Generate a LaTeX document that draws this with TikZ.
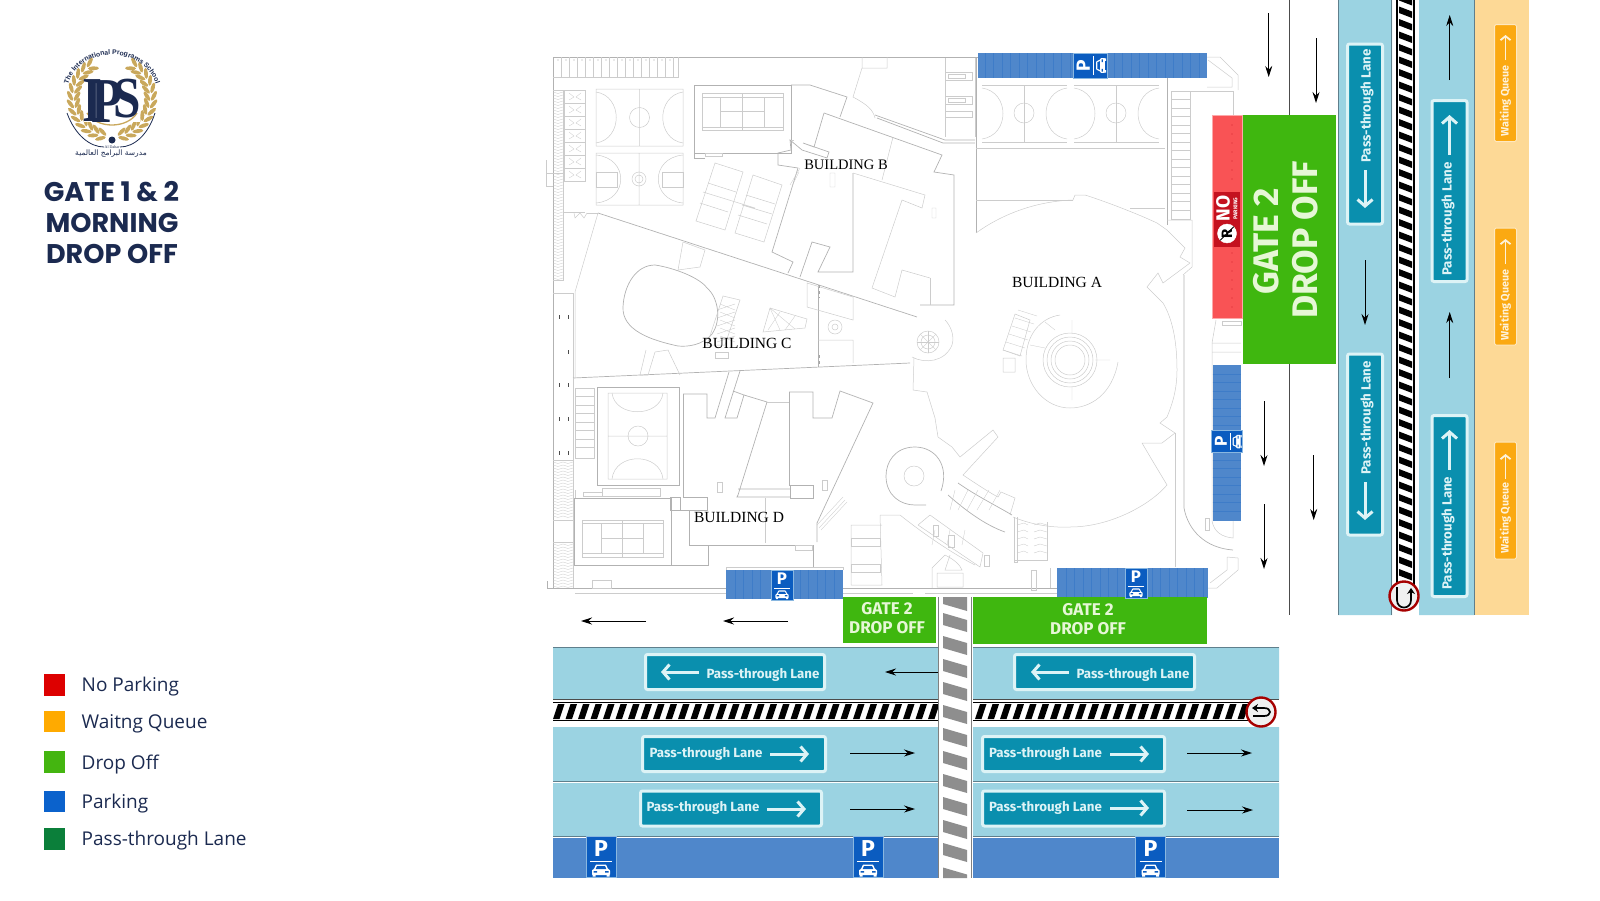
\documentclass[tikz,border=0pt]{standalone}
\usepackage{fontspec}
\setmainfont{Open Sans}
\newfontfamily\signfont{Fira Sans}
\newfontfamily\titlefont{Poppins}
\newfontfamily\planfont{Liberation Serif}
\newfontfamily\logofont{Liberation Sans}
\newfontfamily\arabicfont[Script=Arabic]{DejaVu Sans}
\TeXXeTstate=1
\usetikzlibrary{arrows.meta,decorations.text}
\definecolor{lanecol}{HTML}{9BD3E2}
\definecolor{laneedge}{HTML}{5F7F8C}
\definecolor{queuecol}{HTML}{FDD996}
\definecolor{queuesign}{HTML}{FBA912}
\definecolor{signcol}{HTML}{0A8FAE}
\definecolor{signedge}{HTML}{DDF3F6}
\definecolor{dropcol}{HTML}{3FB70F}
\definecolor{droptext}{HTML}{E6F7D6}
\definecolor{parkcol}{HTML}{4F87CB}
\definecolor{parksign}{HTML}{0B5CC0}
\definecolor{nopark}{HTML}{F95355}
\definecolor{noparksign}{HTML}{C4121F}
\definecolor{navy}{HTML}{1B2A50}
\definecolor{logogold}{HTML}{C9A85C}
\definecolor{zebra}{HTML}{8E8E8E}
\tikzset{
  planline/.style={draw=gray!40,line width=.5pt},
  planwall/.style={draw=gray!60,line width=.7pt},
  plantick/.style={draw=gray!40,line width=.35pt},
  flowarrow/.style={draw=black,line width=.9pt,-{Stealth[length=11pt,width=7pt]}},
  signarrow/.style={draw=signedge,line width=3pt,-{Straight Barb[length=6.5pt,width=15pt,line width=3pt]}},
  queuearrow/.style={draw=#1,line width=1.8pt,-{Straight Barb[length=4pt,width=10pt,line width=1.8pt]}},
  lanesign/.style={draw=signedge,fill=signcol,line width=3pt,rounded corners=2pt,inner sep=0pt},
  queuebox/.style={draw=queuecol!60,fill=queuesign,line width=1pt,rounded corners=1.5pt,inner sep=0pt},
  signtext/.style={text=signedge,inner sep=0pt,font=\signfont\fontsize{13.3}{14}\selectfont\bfseries},
  queuetext/.style={text=queuecol!35,inner sep=0pt,font=\signfont\fontsize{10.8}{12}\selectfont\bfseries},
  gatesmall/.style={text=droptext,inner sep=0pt,font=\signfont\fontsize{17}{17}\selectfont\bfseries},
  gatebig/.style={text=droptext,inner sep=0pt,rotate=90,font=\signfont\fontsize{35.5}{36}\selectfont\bfseries},
  buildinglabel/.style={inner sep=0pt,font=\planfont\fontsize{15.5}{16}\selectfont},
  legendbox/.style={minimum width=20.5pt,minimum height=21.5pt,inner sep=0pt},
  legendtext/.style={anchor=west,inner sep=0pt,text=navy,font=\fontsize{19}{19}\selectfont},
  titletext/.style={text=navy,inner sep=0pt,font=\titlefont\fontsize{27}{27}\selectfont\bfseries},
  uturnsign/.style={circle,draw=red!65!black,fill=gray!12,line width=2.4pt,minimum size=29pt,inner sep=0pt},
  uturnpath/.style={draw=black,line width=1.7pt,-{Stealth[length=6pt,width=8pt]}},
  parkingsign/.pic={
    \fill[parksign] (-15,-20.5) rectangle (15,20.5);
    \draw[signedge!60!parksign,line width=.6pt] (-15,-20.5) rectangle (15,20.5);
    \node[text=white,inner sep=0pt,transform shape,font=\signfont\fontsize{23}{23}\selectfont\bfseries] (-p) at (0,-8) {P};
    \draw[white,line width=.6pt] (-11,4) -- (11,4);
    \fill[white,rounded corners=.6pt] (-5,7.5) -- (5,7.5) -- (7,12) -- (9,13) -- (9,18) -- (-9,18) -- (-9,13) -- (-7,12) -- cycle;
    \fill[parksign] (-4,9) -- (4,9) -- (5.3,12) -- (-5.3,12) -- cycle;
    \fill[parksign] (-7.5,14) rectangle (-4,15.5) (4,14) rectangle (7.5,15.5) (-7,18) rectangle (-9,19.5);
    \fill[white] (-8.5,18) rectangle (-5.5,19.5) (5.5,18) rectangle (8.5,19.5);
  }
}
\begin{document}
\begin{tikzpicture}[x=1pt,y=-1pt]
\useasboundingbox (0,0) rectangle (1600,900);
% site outline
\draw[planwall] (553,57) -- (978,57);
\draw[planwall] (553,57) -- (553,588);
\draw[planwall] (547,581) -- (547,588) -- (726,588);
\draw[planwall] (843,588) -- (1057,588);
\draw[planline] (575,593) -- (726,593) (843,593) -- (913,593) (925,593) -- (1057,593);
\draw[planline] (553,293) -- (573,293) -- (573,588);
% parking rows
\draw[planline] (553,77) -- (678,77) -- (678,57);
\foreach \x in {561,569,...,677}{\draw[plantick] (\x,57) -- (\x,77);}
\foreach \x in {558,566,...,674}{\fill[gray!70] (\x,60) circle[radius=.6];}
\draw[planline] (553,90) -- (563,90) -- (563,280) -- (553,280);
\foreach \y in {92,95,...,278}{\draw[plantick] (553,\y) -- (558,\y+1.5) -- (563,\y);}
\foreach \y in {90,103,...,168}{
  \draw[plantick] (564,\y) rectangle (585,\y+13);
  \draw[plantick] (569,\y+3) -- (574,\y+7) -- (569,\y+10) (581,\y+3) -- (576,\y+7) -- (581,\y+10);
}
\draw[planline] (546,160) -- (546,186) -- (553,186) (546,173) -- (563,173) (563,212) -- (585,212) (587,213) -- (598,213);
\draw[planline] (574,213) -- (575,218) -- (580,213) -- (584,218) -- (587,213);
\draw[planline] (553,460) -- (573,460) (553,520) -- (573,520) (553,542) -- (573,542);
\foreach \y in {462,465,...,518,544,547,...,586}{\draw[plantick] (553,\y) -- (558,\y+1.5) -- (563,\y) -- (568,\y+1.5) -- (573,\y);}
\foreach \y in {317,385,419,453}{\draw[black!70,line width=.5pt] (559,\y-2) -- (559,\y+2) (568,\y-2) -- (568,\y+2);}
\draw[black!70,line width=.5pt] (568,350) -- (568,354);
% courts
\draw[planline] (596,89) rectangle (683,146) (639.5,89) -- (639.5,146) (639.5,117.5) circle[radius=10];
\draw[planline] (596,92) .. controls (623,96) and (623,139) .. (596,143) (683,92) .. controls (656,96) and (656,139) .. (683,143);
\draw[planline] (596,153) rectangle (683,205) (639,153) -- (639,205) (639,179) circle[radius=7] (639,179) circle[radius=4];
\draw[planline] (596,155) .. controls (629,158) and (629,200) .. (596,203) (683,155) .. controls (650,158) and (650,200) .. (683,203);
\draw[planline] (596,172) rectangle (617,187) (683,172) rectangle (662,187);
% tennis
\draw[planwall] (694,85) rectangle (791,153) (694,153) -- (694,158) -- (705,158);
\draw[planline] (702,93) rectangle (783,130) (702,97) -- (783,97) (702,127) -- (783,127);
\draw[planline] (720,97) -- (720,127) (742,93) -- (742,130) (764,97) -- (764,127) (720,111) -- (764,111);
\draw[plantick] (705,153) rectangle (722,156);
% slanted courts
\draw[planline] (715,163) -- (743,172) -- (725,230) -- (696,221) -- cycle (753,175) -- (782,185) -- (764,242) -- (735,233) -- cycle;
\draw[planline] (708,183) -- (736,192) (703,192) -- (755,208) (700,203) -- (728,212) (746,195) -- (775,204) (742,205) -- (772,214) (738,215) -- (767,224);
% building b
\draw[planwall] (791,85) -- (810,85) -- (847,97) -- (840,117);
\draw[planwall] (824,113) -- (942,155) -- (934,172) -- (954,175) -- (954,305) -- (920,305);
\draw[planline] (930,278) -- (902,270) -- (895,297) -- (872,288);
\draw[planline] (893,137) -- (882,180);
\draw[planwall] (853,173) -- (853,272) -- (818,272) -- (830,247) -- (812,242) -- (800,277);
\draw[planwall] (824,113) -- (814,147) -- (803,143) -- (829,152) -- (827,158) -- (802,150) -- (790,140) -- (791,150) -- (778,153) -- (778,165) -- (798,168) -- (772,252) -- (793,262) -- (788,273);
\draw[planline] (853,173) -- (925,195) -- (922,208) -- (902,200) -- (872,288);
\draw[planline] (930,278) -- (930,305) (794,140) -- (791,140);
\draw[plantick] (830,173) rectangle (835,187) (932,208) rectangle (936,218) (800,168) -- (790,185) (799,172) -- (792,186);
% top right of block b
\draw[planline] (862,57) -- (862,68) -- (887,68) -- (887,57) (862,68) -- (853,97) .. controls (868,105) and (873,110) .. (875,118);
\draw[planwall] (875,115) -- (945,140) -- (975,140) (877,118) -- (943,143) -- (975,143);
\draw[planline] (945,58) -- (945,137) (975,58) -- (975,137);
\foreach \y in {72,96}{\draw[plantick] (945,\y) rectangle (972,\y+8) (948,\y+2) rectangle (965,\y+6);}
\draw[plantick] (945,111) rectangle (972,117);
% courts top
\draw[planwall] (976,57) -- (976,233);
\foreach \x in {982,1074}{
  \draw[plantick] (\x,85) -- (\x+85,85) (\x,142) -- (\x+85,142) (\x+42,85) -- (\x+42,142);
  \draw[planline] (\x+42,113) circle[radius=10];
  \draw[planline] (\x,88) .. controls (\x+28,92) and (\x+28,135) .. (\x,139) (\x+85,88) .. controls (\x+57,92) and (\x+57,135) .. (\x+85,139);
}
\draw[planline] (976,148) -- (1165,148) (976,200) -- (1073,200) (1165,208) -- (1130,208);
\draw[planwall] (1167,78) -- (1167,225);
% right parking
\draw[planline] (1171,91) rectangle (1190,219) (1190,91) -- (1233,91) -- (1233,115);
\foreach \y in {99.5,108,...,211}{\draw[plantick] (1171,\y) -- (1190,\y);}
\draw[planline] (1207,57) -- (1220,57) -- (1238,75) -- (1238,90) (1208,60) -- (1232,78) -- (1232,87) -- (1207,87);
% building c
\draw[planwall] (598,213) -- (917,317);
\draw[planline] (598,213) -- (575,292) -- (575,378);
\draw[planwall] (573,378) -- (910,363);
\draw[planline] (683,242) -- (705,250) -- (700,267) -- (678,270) -- (683,242);
\draw[planwall] (623,307) .. controls (624,285) and (636,265) .. (655,265) .. controls (675,268) and (700,278) .. (707,288) .. controls (718,297) and (722,320) .. (712,334) .. controls (703,345) and (688,347) .. (678,346) .. controls (650,340) and (622,330) .. (623,307);
\draw[planline] (723,296) -- (740,300) -- (725,345) -- (707,345) -- cycle;
\foreach \y in {304,312,...,336}{\draw[plantick] (720,\y) -- (735,\y+6) (735,\y) -- (717,\y+6);}
\draw[planline] (770,308) -- (807,319) -- (805,328) -- (763,332) -- cycle;
\draw[plantick] (770,308) -- (780,330) (770,308) -- (795,329) (780,312) -- (768,330) (795,316) -- (785,330);
\draw[planwall] (818,285) -- (818,367);
\draw[planline] (807,283) -- (853,297) -- (853,320) -- (807,307) -- cycle (818,340) -- (853,340) -- (853,363);
\draw[gray!70,line width=1pt,dashed] (819,285) -- (819,298) (819,355) -- (819,366);
\draw[planline] (835,327) circle[radius=7] (835,327) circle[radius=3];
\draw[planline] (655,352) -- (668,350) -- (680,375) (655,352) -- (648,375) -- (640,375) -- (646,350);
\draw[plantick] (715,352) rectangle (728,358);
% rosette
\draw[planline] (928,342) circle[radius=11] (928,342) circle[radius=7];
\foreach \a in {0,45,...,135}{\draw[plantick] ({928+11*cos(\a)},{342+11*sin(\a)}) -- ({928-11*cos(\a)},{342-11*sin(\a)});}
\draw[planline] (912,357) .. controls (925,364) and (945,362) .. (952,345) .. controls (955,335) and (950,325) .. (945,320) (914,358) -- (913,390) -- (927,392);
% building a
\draw[planline] (976,233) .. controls (1005,212) and (1040,201) .. (1073,200) -- (1075,195) -- (1085,195) .. controls (1110,203) and (1140,215) .. (1157,223) -- (1167,230) -- (1185,248) -- (1180,257) -- (1190,263) -- (1163,283) -- (1158,273) -- (1147,287) -- (1163,303) .. controls (1172,318) and (1177,340) .. (1177,370) .. controls (1177,390) and (1172,405) .. (1167,417);
\draw[planline] (1167,417) -- (1160,423) -- (1175,433) -- (1162,443) -- (1142,443) -- (1152,460) -- (1167,485) .. controls (1150,505) and (1110,527) .. (1070,527) .. controls (1050,528) and (1030,524) .. (1013,517);
\draw[planline] (927,392) -- (935,418) -- (938,437) -- (952,447) -- (960,457) -- (993,430) -- (998,437) -- (963,475) .. controls (975,483) and (990,493) .. (998,497) -- (1001,492) -- (1015,498) -- (1010,515);
\draw[planline] (1175,433) -- (1175,567);
% amphitheatre
\draw[planline] (1118,362) .. controls (1112,395) and (1090,408) .. (1070,408) .. controls (1045,408) and (1026,385) .. (1026,360) .. controls (1026,335) and (1040,318) .. (1060,315);
\draw[planline] (1070,360) circle[radius=15] (1070,360) circle[radius=19] (1070,360) circle[radius=23] (1070,360) circle[radius=27];
\draw[plantick] (1045,322) -- (1055,330) (1030,345) -- (1045,348) (1072,334) -- (1072,320) (1072,386) -- (1072,400) (1095,360) -- (1110,360);
\foreach \i in {0,...,5}{\draw[plantick] (1003+\i*3,350-\i*8) -- (1022+\i*3,356-\i*8);}
\draw[planline] (1003,350) -- (1015,314) -- (1030,320) -- (1020,356) -- cycle (1003,358) rectangle (1015,372);
% right hand wall
\draw[planline] (1183,275) -- (1192,267) -- (1192,220) -- (1167,220);
\draw[planwall] (1184,275) -- (1184,508) .. controls (1188,530) and (1205,548) .. (1233,550);
\draw[planline] (1212,343) -- (1212,521) .. controls (1214,532) and (1222,537) .. (1233,538) -- (1233,520);
\draw[planline] (1212,343) -- (1241,343) (1212,352) -- (1241,352) (1216,320) -- (1212,343);
\draw[plantick] (1222,321) rectangle (1241,325);
\draw[planline] (1205,518) rectangle (1209,530);
\draw[planline] (1227,557) -- (1238,558) -- (1238,570) -- (1217,588) -- (1208,588) (1227,557) -- (1227,570) -- (1210,583);
% loop and curved parking
\draw[planwall] (941,491) .. controls (950,465) and (935,447) .. (915,447) .. controls (895,447) and (886,462) .. (886,476) .. controls (886,495) and (900,505) .. (915,505) -- (926,505);
\draw[planline] (914,476) circle[radius=10];
\draw[planwall] (958,483) .. controls (975,495) and (995,505) .. (1012,515) (948,495) .. controls (965,510) and (985,525) .. (1005,532);
\foreach \a/\b in {955/950,968/958,978/967,989/977,1000/989}{\draw[plantick] (\a,490) -- (\b,510);}
\draw[planline] (930,515) -- (918,525) (930,515) -- (983,553) (918,525) -- (980,567) -- (983,553);
\draw[planline] (900,515) .. controls (925,535) and (955,555) .. (975,565) (880,515) -- (900,515);
\foreach \x in {935,950,965}{\draw[plantick] (\x,530) -- (\x-3,545);}
\draw[planline] (933,525) rectangle (938,536) (948,535) rectangle (954,547) (984,555) rectangle (989,566);
\draw[planline] (880,515) -- (882,585) -- (851,585) -- (851,525) -- (882,525);
\foreach \y in {538,564}{\draw[plantick] (851,\y) rectangle (880,\y+8);}
\draw[planline] (945,555) -- (932,568) -- (932,588) (945,555) .. controls (955,560) and (960,565) .. (962,570) -- (945,570) -- (950,555) (937,573) rectangle (963,587);
% stairs south
\draw[planline] (1014,517) -- (1014,562) -- (1017,562) -- (1017,517);
\draw[planline] (1047,522) -- (1047,560) -- (1014,560);
\foreach \y in {523,530,...,555}{\draw[plantick] (1017,\y+2) -- (1024,\y) -- (1028,\y+2) (1034,\y+2) -- (1040,\y) -- (1047,\y+2);}
\draw[plantick] (1036,570) rectangle (1031,590) (1050,568) -- (1050,588);
% building d
\draw[planwall] (597,387) rectangle (679,485);
\draw[planline] (608,393) rectangle (667,479) (608,436) -- (667,436) (638,436) circle[radius=10];
\draw[planline] (612,393) .. controls (615,418) and (660,418) .. (663,393) (612,479) .. controls (615,452) and (660,452) .. (663,479);
\draw[planline] (575,388) rectangle (594,458);
\foreach \y in {396.5,405,...,450}{\draw[plantick] (575,\y) -- (594,\y);}
\draw[planline] (573,378) -- (573,388);
\draw[planwall] (574,498) -- (671,498) -- (671,565) -- (574,565) -- cycle;
\draw[planline] (582,520) rectangle (663,557) (582,523) -- (663,523) (582,553) -- (663,553) (601,523) -- (601,553) (622,520) -- (622,557) (643,523) -- (643,553) (601,538) -- (643,538);
\draw[plantick] (575,490) -- (575,498) (583,492) rectangle (602,496);
\draw[plantick] (602,488) rectangle (660,496);
\draw[planwall] (683,394) -- (683,497) -- (707,497) -- (707,510) -- (689,510) -- (689,545) -- (813,545) -- (813,567);
\draw[planwall] (671,510) -- (707,510) (708,545) -- (708,565) -- (671,565) (670,497) rectangle (680,510);
\draw[planwall] (683,394) -- (707,394) -- (707,418) -- (715,418) -- (729,372) (740,371) -- (725,418) -- (737,418) -- (744,395) -- (733,391);
\draw[planwall] (744,395) -- (767,402) -- (738,495) -- (737,497) -- (790,497) (738,489) -- (790,489);
\draw[planwall] (789,392) -- (789,485) -- (813,485) -- (813,498) -- (790,498) -- (790,485);
\draw[planwall] (789,392) -- (813,392) -- (813,418) -- (832,418) -- (840,391) -- (873,403) -- (817,523) -- (817,542);
\draw[planline] (765,498) -- (765,543) (767,402) -- (789,402);
\draw[plantick] (717,482) rectangle (722,492) (822,480) rectangle (827,490) (795,545) rectangle (812,550);
\draw[plantick] (817,525) -- (843,497) (819,528) -- (845,500) (821,530) -- (847,502);
\draw[planline] (726,570) -- (726,567) -- (843,567) -- (843,570);
\draw[plantick] (592,588) rectangle (611,580);
% lanes on the right
\fill[lanecol] (1338,0) rectangle (1392,615) (1419,0) rectangle (1474,615);
\fill[queuecol] (1474,0) rectangle (1529,615);
\draw[laneedge,line width=.9pt] (1338,0) -- (1338,615) (1474,0) -- (1474,615) (1391.5,0) -- (1391.5,615);
\draw[gray!60!black,line width=.9pt] (1289,0) -- (1289,115) (1289,364) -- (1289,615);
\fill[white] (1397,0) rectangle (1414,585);
\foreach \y in {-6,6.5,...,580}{\fill[black] (1399,\y) -- (1412,\y+5) -- (1412,\y+11.5) -- (1399,\y+6.5) -- cycle;}
\draw[black,line width=1.6pt] (1397,0) -- (1397,585) (1414,0) -- (1414,585);
% lanes at the bottom
\foreach \xa/\xb in {553/938,973/1279}{
  \fill[lanecol] (\xa,647) rectangle (\xb,699) (\xa,727) rectangle (\xb,781) (\xa,783) rectangle (\xb,836);
  \fill[parkcol] (\xa,838) rectangle (\xb,878);
  \draw[laneedge,line width=.9pt] (\xa,647) -- (\xb,647) (\xa,836.5) -- (\xb,836.5) (\xa,781.5) -- (\xb,781.5);
  \draw[black!70,line width=.7pt] (\xa,699.5) -- (\xb,699.5);
}
\foreach \x in {553,565.5,...,930}{\fill[black] (\x,719) -- (\x+5,704) -- (\x+11.5,704) -- (\x+6.5,719) -- cycle;}
\foreach \x in {975,987.5,...,1240}{\fill[black] (\x,719) -- (\x+5,704) -- (\x+11.5,704) -- (\x+6.5,719) -- cycle;}
\draw[black,line width=1.5pt] (553,702.5) -- (938,702.5) (553,720.5) -- (938,720.5) (973,702.5) -- (1250,702.5) (973,720.5) -- (1250,720.5);
% zebra
\fill[white] (938,597) rectangle (972,878);
\draw[gray,line width=1pt] (938.5,597) -- (938.5,878) (971.5,597) -- (971.5,878);
\fill[zebra] (943,597) -- (967,597) -- (967,611) -- (943,604) -- cycle;
\foreach \y in {613,636,...,850}{\fill[zebra] (943,\y) -- (967,\y+7) -- (967,\y+19) -- (943,\y+12) -- cycle;}
\fill[zebra] (943,867.5) -- (967,874.5) -- (967,878) -- (943,878) -- cycle;
% coloured blocks
\fill[nopark] (1212,115.5) rectangle (1242,318);
\draw[nopark!50,line width=.8pt] (1212,115.5) rectangle (1242,318);
\foreach \y in {125,134,...,185,253,262,...,312}{\fill[noparksign!70!nopark] (1232,\y) circle[radius=.6];}
\fill[dropcol] (1243,115) rectangle (1336,364);
\fill[parkcol] (1212.5,365) rectangle (1241,521);
\foreach \y in {374,382.5,...,425,460,468.5,...,515}{\draw[parksign!25!parkcol,line width=.3pt] (1212.5,\y) -- (1241,\y);}
\fill[parkcol] (978,53) rectangle (1207,78);
\fill[parkcol] (726,570) rectangle (843,599);
\fill[parkcol] (1057,568) rectangle (1208,598);
\foreach \x in {1114,1122.5,...,1200,985,993.5,...,1070}{\draw[parksign!25!parkcol,line width=.3pt] (\x,53) -- (\x,78);}
\foreach \x in {735,743.5,...,765,800,808.5,...,840}{\draw[parksign!25!parkcol,line width=.3pt] (\x,570) -- (\x,599);}
\foreach \x in {1066,1074.5,...,1120,1152,1160.5,...,1204}{\draw[parksign!25!parkcol,line width=.3pt] (\x,568) -- (\x,598);}
\fill[dropcol] (843,597) rectangle (936,643);
\fill[dropcol] (973,597) rectangle (1207,644);
% text on the blocks
\node[gatebig] (gateside) at (1266,241) {GATE 2};
\node[gatebig] (dropside) at (1305,240) {DROP OFF};
\node[gatesmall] (gateleft) at (887,609) {GATE 2};
\node[gatesmall] (dropleft) at (887,628) {DROP OFF};
\node[gatesmall] (gateright) at (1088,610) {GATE 2};
\node[gatesmall] (dropright) at (1088,629) {DROP OFF};
\node[fill=noparksign,minimum width=26pt,minimum height=55pt,inner sep=0pt] (nosign) at (1227,219.5) {};
\node[rotate=90,text=white,inner sep=0pt,font=\signfont\fontsize{19}{19}\selectfont\bfseries] (notext) at (1223,208.5) {NO};
\node[rotate=90,text=white,inner sep=0pt,font=\signfont\fontsize{5.5}{6}\selectfont\bfseries] (noparking) at (1235.5,208.5) {PARKING};
\node[circle,fill=white,draw=white,minimum size=19pt,inner sep=0pt,rotate=90,text=black,font=\signfont\fontsize{15}{15}\selectfont\bfseries] (norsign) at (1227,233.5) {R};
\draw[black,line width=1pt] (norsign.north west) -- (norsign.south east);
% pass through signs
\foreach \n/\cx/\cy/\h/\tx/\ty/\ax/\aa/\ab in {sa/1365/134/180/1367/106/1365/170/208,sb/1365/444.5/181/1367/418/1365/482/520,sc/1449.5/191/181/1448/219/1449.5/155/115,sd/1449.5/506/181/1448/533/1449.5/470/430}{
  \node[lanesign,minimum width=35pt,minimum height=\h pt] (\n) at (\cx,\cy) {};
  \node[signtext,rotate=90] (\n text) at (\tx,\ty) {Pass-through Lane};
  \coordinate (\n from) at (\ax,\aa);
  \coordinate (\n to) at (\ax,\ab);
  \draw[signarrow] (\n from) -- (\n to);
}
\foreach \n/\cx/\cy/\w/\tx/\ty/\aa/\ab/\ay in {se/735/672/179/763/675/699/661/672,sf/1104.5/672/180/1133/675/1069/1031/672,sg/734/754/183/706/754/770/809/754,sh/731/808.5/181/703/808/767/806/809,si/1073.5/754/182/1045.5/754/1110/1149/754,sj/1073.5/808.5/182/1045.5/808/1110/1149/808}{
  \node[lanesign,minimum width=\w pt,minimum height=35pt] (\n) at (\cx,\cy) {};
  \node[signtext] (\n text) at (\tx,\ty) {Pass-through Lane};
  \coordinate (\n from) at (\aa,\ay);
  \coordinate (\n to) at (\ab,\ay);
  \draw[signarrow] (\n from) -- (\n to);
}
\foreach \n/\cy/\tv/\aa/\ab in {qa/83/101/60/35,qb/286.5/305/264/239,qc/500.5/518/479/454}{
  \node[queuebox,minimum width=22pt,minimum height=117pt] (\n) at (1505.5,\cy) {};
  \node[queuetext,rotate=90] (\n text) at (1505.5,\tv) {Waiting Queue};
  \coordinate (\n from) at (1505.5,\aa);
  \coordinate (\n to) at (1505.5,\ab);
  \draw[queuearrow=queuecol!35] (\n from) -- (\n to);
}
% traffic arrows
\foreach \n/\xa/\ya/\xb/\yb in {ra/1268.7/13/1268.7/77,rb/1316/38/1316/103,rc/1365/260/1365/325,rd/1449.7/80/1449.7/15,re/1449.7/378/1449.7/312,rf/1264/401/1264/466,rg/1264/504/1264/569,rh/1313.7/455/1313.7/520,ba/646/621/581/621,bb/788/621/723/621,bc/938/672/885/672,bd/850/753/915/753,be/850/809/915/809,bf/1187/753/1252/753,bg/1187/810/1253/810}{
  \coordinate (\n from) at (\xa,\ya);
  \coordinate (\n to) at (\xb,\yb);
  \draw[flowarrow] (\n from) -- (\n to);
}
% parking signs
\pic (pka) at (601,857) {parkingsign};
\pic (pkb) at (868,857) {parkingsign};
\pic (pkc) at (1150.5,857) {parkingsign};
\pic[scale=.73] (pkd) at (782,585) {parkingsign};
\pic[scale=.73] (pke) at (1136,583) {parkingsign};
\pic[rotate=90,scale=.83] (pkf) at (1090,65.5) {parkingsign};
\pic[rotate=90,scale=.75] (pkg) at (1227,441.5) {parkingsign};
% u turns
\node[uturnsign] (uturnup) at (1404,596) {};
\node[uturnsign] (uturnback) at (1261,712) {};
\draw[uturnpath] (1397,587) -- (1397,600) .. controls (1397,610) and (1411,610) .. (1411,600) -- (1411,588);
\draw[uturnpath] (1253,716) -- (1264,716) .. controls (1272,716) and (1272,708) .. (1264,708) -- (1252,708);
% building names
\node[buildinglabel,font=\planfont\fontsize{14.5}{15}\selectfont] (buildb) at (846,165) {BUILDING B};
\node[buildinglabel] (buildc) at (747,343) {BUILDING C};
\node[buildinglabel] (buildd) at (739,517) {BUILDING D};
\node[buildinglabel] (builda) at (1057,282) {BUILDING A};
% title
\node[titletext] (titlea) at (111.5,191.5) {GATE 1 \& 2};
\node[titletext] (titleb) at (112,222.5) {MORNING};
\node[titletext] (titlec) at (112,253.5) {DROP OFF};
% legend
\node[legendbox,fill={rgb,255:red,221;green,0;blue,0}] (keyred) at (54.5,685) {};
\node[legendbox,fill={rgb,255:red,255;green,170;blue,0}] (keyorange) at (54.5,721.5) {};
\node[legendbox,fill={rgb,255:red,68;green,181;blue,16}] (keygreen) at (54.5,762) {};
\node[legendbox,fill={rgb,255:red,11;green,98;blue,204}] (keyblue) at (54.5,801.5) {};
\node[legendbox,fill={rgb,255:red,11;green,127;blue,58}] (keylane) at (54.5,839) {};
\node[legendtext] (labred) at (81.5,687) {No Parking};
\node[legendtext] (laborange) at (81.5,724) {Waitng Queue};
\node[legendtext] (labgreen) at (81.5,764) {Drop Off};
\node[legendtext] (labblue) at (81.5,803.5) {Parking};
\node[legendtext] (lablane) at (81.5,840.5) {Pass-through Lane};
% logo
\foreach \t in {-58,-47,...,75}{
  \begin{scope}[shift={({112-42*cos(\t)},{98+42*sin(\t)})},rotate={120+\t}]
    \fill[logogold] (0,0) ellipse[x radius=5.5,y radius=2];
  \end{scope}
  \begin{scope}[shift={({112-35*cos(\t)},{98+35*sin(\t)})},rotate={60+\t}]
    \fill[logogold] (0,0) ellipse[x radius=5.5,y radius=2];
  \end{scope}
  \begin{scope}[shift={({112+42*cos(\t)},{98+42*sin(\t)})},rotate={60-\t}]
    \fill[logogold] (0,0) ellipse[x radius=5.5,y radius=2];
  \end{scope}
  \begin{scope}[shift={({112+35*cos(\t)},{98+35*sin(\t)})},rotate={120-\t}]
    \fill[logogold] (0,0) ellipse[x radius=5.5,y radius=2];
  \end{scope}
}
\draw[navy,line width=.8pt] (67,113) .. controls (75,135) and (90,147) .. (104,147) (120,147) .. controls (134,147) and (148,135) .. (155,113);
\fill[navy] (112,140) circle[radius=3.5];
\fill[white] (84,80) rectangle (140,122);
\draw[logogold,line width=1.3pt] (87,113) .. controls (97,129) and (127,129) .. (137,113);
\node[text=navy,inner sep=0pt,xscale=.8,font=\planfont\bfseries\fontsize{64}{64}\selectfont] (logoi) at (92,101) {I};
\node[text=navy,inner sep=0pt,xscale=.8,font=\planfont\bfseries\fontsize{64}{64}\selectfont] (logop) at (107,102) {P};
\node[text=navy,inner sep=0pt,xscale=.85,font=\planfont\bfseries\fontsize{58}{58}\selectfont] (logos) at (127,99) {S};
\path[decorate,decoration={text along path,text align=center,text={|\logofont\bfseries\fontsize{6.8}{6.8}\selectfont\color{navy}|The International Programs School}}] (66,99) .. controls (66,40) and (158,40) .. (158,99);
\node[text=navy,inner sep=0pt,font=\planfont\fontsize{4}{4}\selectfont] (logotown) at (112,147.5) {Al Dahar};
\node[text=navy,inner sep=0pt,font=\arabicfont\fontsize{7.5}{8}\selectfont] (logoarabic) at (111,154) {\beginR مدرسة البرامج العالمية\endR};
\end{tikzpicture}
\end{document}
